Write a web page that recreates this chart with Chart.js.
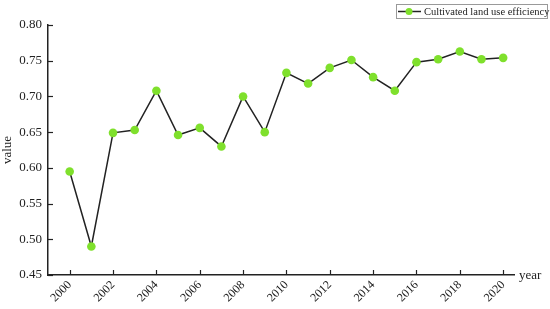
<!DOCTYPE html>
<html>
<head>
<meta charset="utf-8">
<script src="https://cdn.jsdelivr.net/npm/chart.js"></script>
<style>
  html, body { margin: 0; padding: 0; background: #fff; }
  #wrap { width: 550px; height: 309px; }
</style>
</head>
<body>
<div id="wrap"><canvas id="chart"></canvas></div>
<script>
const years = [2000, 2001, 2002, 2003, 2004, 2005, 2006, 2007, 2008, 2009, 2010,
               2011, 2012, 2013, 2014, 2015, 2016, 2017, 2018, 2019, 2020];
const efficiency = [0.595, 0.490, 0.649, 0.653, 0.708, 0.646, 0.656, 0.630, 0.700, 0.650, 0.733,
                    0.718, 0.740, 0.751, 0.727, 0.708, 0.748, 0.752, 0.763, 0.752, 0.754];
const yTicks = [0.45, 0.50, 0.55, 0.60, 0.65, 0.70, 0.75, 0.80];
const xTicks = [2000, 2002, 2004, 2006, 2008, 2010, 2012, 2014, 2016, 2018, 2020];
const seriesName = 'Cultivated land use efficiency';

const FONT = '"Liberation Serif", "Times New Roman", serif';
const GREEN = '#7fe02c';

// ticks pointing into the plot, axis title "year", boxed legend
const extras = {
    id: 'extras',
    afterDraw(chart) {
        const { ctx, chartArea, scales } = chart;
        const x = scales.x, y = scales.y;
        ctx.save();
        ctx.strokeStyle = '#222';
        ctx.lineWidth = 1.2;
        xTicks.forEach(v => {
            const px = Math.round(x.getPixelForValue(v)) + 0.5;
            ctx.beginPath();
            ctx.moveTo(px, chartArea.bottom);
            ctx.lineTo(px, chartArea.bottom - 5);
            ctx.stroke();
        });
        yTicks.forEach(v => {
            const py = Math.round(y.getPixelForValue(v)) + 0.5;
            ctx.beginPath();
            ctx.moveTo(chartArea.left, py);
            ctx.lineTo(chartArea.left + 5, py);
            ctx.stroke();
        });

        ctx.fillStyle = '#222';
        ctx.font = '13px ' + FONT;
        ctx.textBaseline = 'middle';
        ctx.textAlign = 'left';
        ctx.fillText('year', chartArea.right + 5, chartArea.bottom + 1);

        // legend
        const bx = 396, by = 4, bw = 151, bh = 14;
        ctx.strokeStyle = '#999';
        ctx.lineWidth = 1;
        ctx.strokeRect(bx + 0.5, by + 0.5, bw, bh);
        const my = by + bh / 2 + 0.5;
        ctx.strokeStyle = '#222';
        ctx.lineWidth = 1.5;
        ctx.beginPath();
        ctx.moveTo(bx + 2, my);
        ctx.lineTo(bx + 25, my);
        ctx.stroke();
        ctx.fillStyle = GREEN;
        ctx.beginPath();
        ctx.arc(bx + 13, my, 3.5, 0, Math.PI * 2);
        ctx.fill();
        ctx.fillStyle = '#222';
        ctx.font = '10.5px ' + FONT;
        ctx.fillText(seriesName, bx + 28, my + 0.5);
        ctx.restore();
    }
};

new Chart(document.getElementById('chart').getContext('2d'), {
    type: 'line',
    data: {
        datasets: [{
            label: seriesName,
            data: years.map((yr, i) => ({ x: yr, y: efficiency[i] })),
            borderColor: '#222',
            borderWidth: 1.5,
            backgroundColor: GREEN,
            pointBackgroundColor: GREEN,
            pointBorderColor: GREEN,
            pointRadius: 4.3,
            pointBorderWidth: 0,
            tension: 0,
            fill: false
        }]
    },
    options: {
        responsive: true,
        maintainAspectRatio: false,
        animation: false,
        devicePixelRatio: 1,
        layout: { padding: { top: 25, right: 36, left: 0, bottom: 0 } },
        plugins: {
            legend: { display: false },
            tooltip: { enabled: false }
        },
        scales: {
            x: {
                type: 'linear',
                min: 1999,
                max: 2020.5,
                afterBuildTicks: s => { s.ticks = xTicks.map(v => ({ value: v })); },
                afterFit: s => { s.height = 34; },
                grid: { display: false, drawTicks: false },
                border: { display: true, color: '#222', width: 1.5 },
                ticks: {
                    color: '#222',
                    font: { family: FONT, size: 12 },
                    maxRotation: 45,
                    minRotation: 45,
                    padding: 3,
                    callback: v => String(v)
                }
            },
            y: {
                min: 0.45,
                max: 0.80,
                afterBuildTicks: s => { s.ticks = yTicks.map(v => ({ value: v })); },
                afterFit: s => { s.width = 48; },
                grid: { display: false, drawTicks: false },
                border: { display: true, color: '#222', width: 1.5 },
                title: {
                    display: true,
                    text: 'value',
                    color: '#222',
                    font: { family: FONT, size: 13 },
                    padding: 0
                },
                ticks: {
                    color: '#222',
                    font: { family: FONT, size: 13 },
                    padding: 6,
                    callback: v => v.toFixed(2)
                }
            }
        }
    },
    plugins: [extras]
});
</script>
</body>
</html>
